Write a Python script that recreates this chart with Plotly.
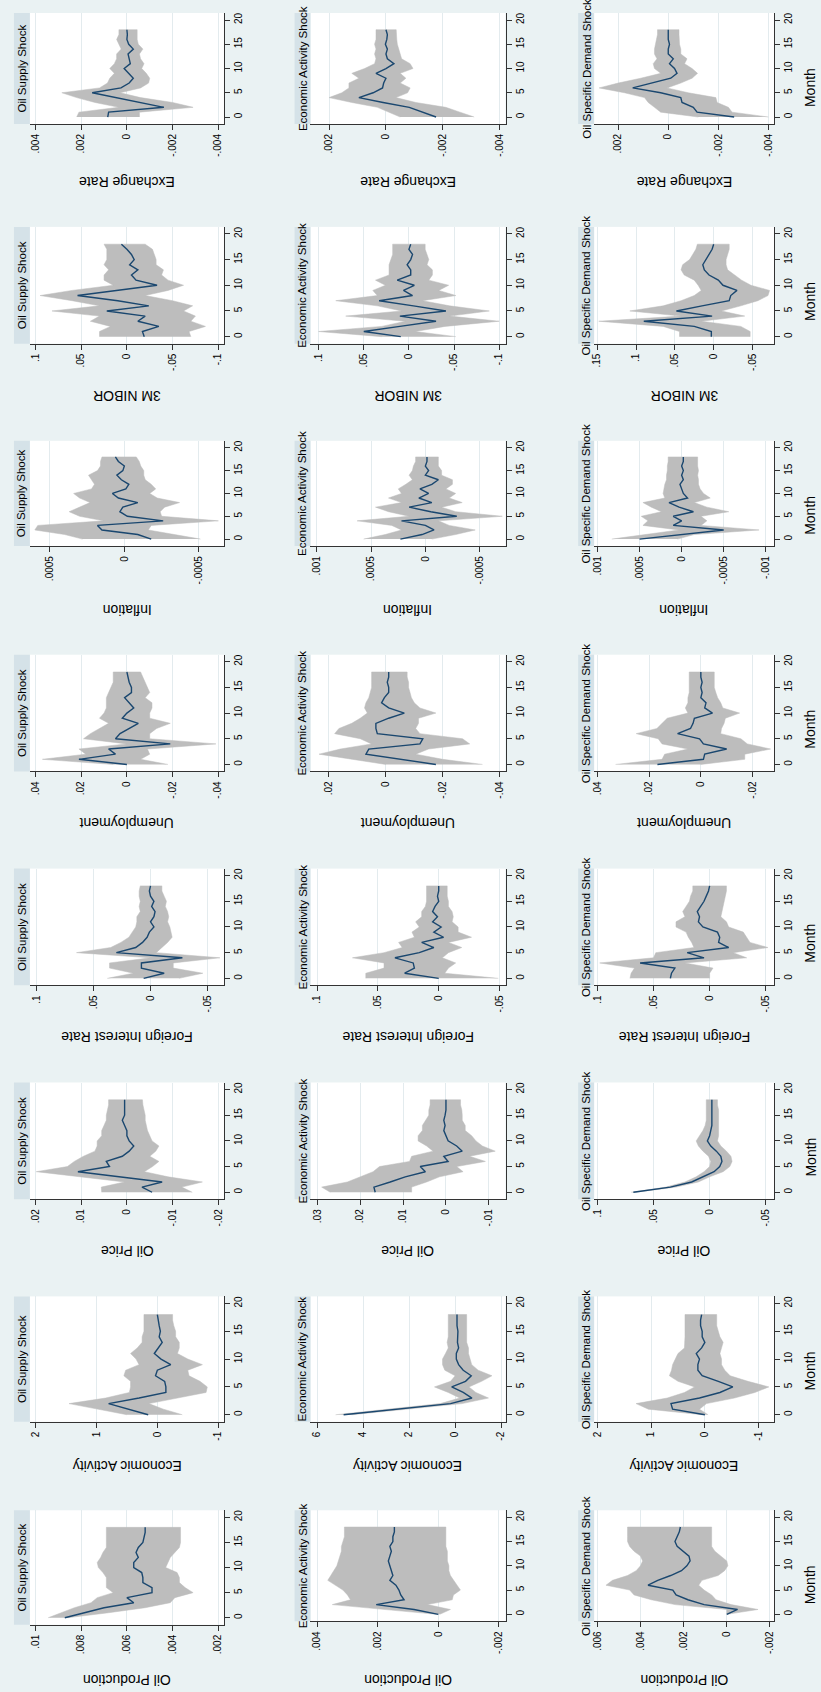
import plotly.graph_objects as go

W, H = 821, 1692
months = list(range(19))

shocks = ["Oil Supply Shock", "Economic Activity Shock", "Oil Specific Demand Shock"]
variables = ["Exchange Rate", "3M NIBOR", "Inflation", "Unemployment",
             "Foreign Interest Rate", "Oil Price", "Economic Activity", "Oil Production"]
# multiplier in which the arrays below are written
unit = {"Exchange Rate": 1e-3, "3M NIBOR": 1.0, "Inflation": 1e-4, "Unemployment": 1e-2,
        "Foreign Interest Rate": 1.0, "Oil Price": 1e-2, "Economic Activity": 1.0, "Oil Production": 1e-3}

# ---------------- Oil Supply Shock ----------------
os_er_irf = [0.84, 0.80, -1.62, -0.6, 0.45, 1.52, 0.26, -0.1, -0.28, -0.1, 0.12, -0.15, -0.1, -0.05, -0.28, -0.08, 0.0, -0.02, 0.0]
os_er_hi = [2.2, 2.1, 0.35, 1.4, 2.2, 2.85, 1.2, 0.85, 0.75, 0.55, 0.75, 0.55, 0.45, 0.45, 0.25, 0.35, 0.45, 0.35, 0.35]
os_er_lo = [-0.55, -0.55, -2.9, -2.0, -0.6, 0.3, -0.6, -0.95, -1.0, -0.85, -0.65, -0.75, -0.6, -0.55, -0.7, -0.5, -0.45, -0.45, -0.45]

os_nb_irf = [-0.019, -0.017, -0.035, -0.012, -0.02, 0.022, -0.024, 0.01, 0.054, 0.01, -0.033, -0.01, -0.005, -0.012, -0.003, -0.008, -0.005, 0.0, 0.006]
os_nb_hi = [0.03, 0.03, 0.018, 0.04, 0.03, 0.082, 0.03, 0.06, 0.095, 0.06, 0.015, 0.025, 0.025, 0.02, 0.025, 0.022, 0.022, 0.022, 0.025]
os_nb_lo = [-0.07, -0.068, -0.086, -0.07, -0.075, -0.062, -0.072, -0.05, -0.02, -0.045, -0.062, -0.045, -0.038, -0.04, -0.032, -0.032, -0.03, -0.028, -0.02]

os_in_irf = [-1.8, -0.9, 1.5, 1.8, -2.6, -0.2, 0.3, 0.1, -0.9, 0.4, 0.8, -0.1, -0.3, 0.2, 0.5, 0.1, 0.0, 0.4, 0.6]
os_in_hi = [2.8, 4.0, 6.0, 5.8, 1.4, 3.0, 3.7, 3.0, 2.3, 3.0, 3.4, 2.2, 2.0, 2.2, 2.4, 1.8, 1.6, 1.6, 1.5]
os_in_lo = [-5.1, -3.5, -1.6, -1.8, -6.3, -2.5, -2.4, -2.7, -3.7, -2.2, -1.7, -2.1, -1.8, -1.4, -1.3, -1.3, -1.1, -1.0, -0.8]

os_un_irf = [0.0, 2.1, 0.5, 0.8, -1.9, 0.5, 0.3, -0.1, -0.5, 0.2, 0.0, -0.3, -0.1, 0.1, -0.2, -0.2, -0.1, -0.05, 0.0]
os_un_hi = [0.6, 3.7, 1.8, 2.1, 0.0, 1.9, 1.6, 1.2, 0.8, 1.2, 1.0, 0.9, 0.9, 0.9, 0.8, 0.7, 0.6, 0.6, 0.6]
os_un_lo = [-1.8, -0.6, -1.0, -0.9, -3.9, -1.0, -1.0, -1.3, -1.9, -1.0, -1.0, -1.1, -1.1, -0.8, -1.0, -0.9, -0.8, -0.7, -0.6]

os_fr_irf = [0.006, -0.012, 0.008, 0.008, -0.028, 0.03, 0.013, 0.007, 0.003, 0.001, -0.003, 0.0, -0.003, -0.004, -0.001, -0.003, 0.0, 0.001, 0.0]
os_fr_hi = [0.038, 0.015, 0.036, 0.036, 0.0, 0.065, 0.035, 0.026, 0.019, 0.016, 0.013, 0.012, 0.012, 0.009, 0.010, 0.009, 0.010, 0.010, 0.009]
os_fr_lo = [-0.025, -0.046, -0.02, -0.02, -0.061, -0.005, -0.01, -0.015, -0.019, -0.018, -0.017, -0.015, -0.016, -0.015, -0.013, -0.014, -0.012, -0.010, -0.010]

os_op_irf = [-0.55, -0.33, -0.77, 0.15, 1.07, 0.38, 0.45, 0.1, -0.05, -0.15, -0.05, 0.0, 0.0, 0.05, 0.1, 0.05, 0.05, 0.05, 0.05]
os_op_hi = [0.55, 0.56, 0.05, 1.0, 1.98, 1.3, 1.15, 0.95, 0.7, 0.65, 0.65, 0.55, 0.55, 0.5, 0.45, 0.45, 0.42, 0.4, 0.4]
os_op_lo = [-1.43, -1.2, -1.65, -0.9, -0.38, -0.56, -0.7, -0.5, -0.63, -0.7, -0.55, -0.5, -0.45, -0.42, -0.4, -0.4, -0.38, -0.35, -0.34]

os_ea_irf = [0.15, 0.48, 0.8, 0.3, -0.14, -0.14, -0.12, 0.03, 0.0, -0.22, -0.06, 0.05, -0.02, -0.08, -0.03, -0.05, -0.03, -0.02, 0.0]
os_ea_hi = [0.5, 1.0, 1.45, 0.85, 0.46, 0.44, 0.44, 0.55, 0.52, 0.3, 0.35, 0.44, 0.33, 0.25, 0.25, 0.22, 0.22, 0.22, 0.22]
os_ea_lo = [-0.41, -0.1, 0.14, -0.3, -0.8, -0.82, -0.7, -0.52, -0.5, -0.74, -0.5, -0.33, -0.36, -0.36, -0.3, -0.3, -0.27, -0.25, -0.25]

os_pr_irf = [8.72, 7.9, 7.0, 5.7, 6.0, 4.9, 4.9, 5.3, 5.3, 5.35, 5.7, 5.7, 5.5, 5.6, 5.5, 5.3, 5.25, 5.2, 5.2]
os_pr_hi = [9.45, 8.9, 8.3, 7.57, 7.3, 6.6, 6.9, 6.9, 6.9, 7.05, 7.25, 7.3, 7.15, 7.05, 6.9, 6.9, 6.9, 6.9, 6.9]
os_pr_lo = [8.6, 6.8, 5.2, 4.1, 3.9, 3.1, 3.45, 3.7, 3.7, 3.8, 4.3, 4.2, 4.1, 3.9, 3.7, 3.65, 3.65, 3.65, 3.65]

# ---------------- Economic Activity Shock ----------------
ea_er_irf = [-1.76, -1.3, -0.82, 0.1, 0.95, 0.45, 0.12, 0.08, 0.0, 0.35, 0.0, -0.28, -0.05, 0.0, -0.05, 0.02, -0.03, -0.05, 0.0]
ea_er_hi = [-0.5, -0.1, 0.3, 1.2, 2.0, 1.55, 1.3, 1.3, 0.95, 1.2, 0.75, 0.4, 0.35, 0.4, 0.35, 0.4, 0.35, 0.35, 0.35]
ea_er_lo = [-3.1, -2.6, -2.1, -1.05, -0.35, -0.76, -0.85, -0.5, -0.7, -0.5, -0.95, -0.85, -0.55, -0.5, -0.45, -0.4, -0.38, -0.36, -0.36]

ea_nb_irf = [0.009, 0.05, 0.01, -0.03, 0.01, -0.041, -0.005, 0.033, -0.004, 0.006, -0.006, 0.013, -0.002, -0.002, 0.002, -0.002, -0.004, 0.0, -0.002]
ea_nb_hi = [0.03, 0.1, 0.03, 0.004, 0.07, 0.008, 0.035, 0.081, 0.035, 0.04, 0.026, 0.037, 0.022, 0.022, 0.022, 0.02, 0.018, 0.018, 0.018]
ea_nb_lo = [-0.052, -0.007, -0.04, -0.1, -0.045, -0.089, -0.045, -0.015, -0.052, -0.033, -0.044, -0.022, -0.026, -0.026, -0.02, -0.022, -0.02, -0.018, -0.018]

ea_in_irf = [2.3, 0.3, -0.8, 0.0, 2.2, -2.9, -0.5, 1.5, -0.6, 0.6, -0.3, 0.5, -0.6, -1.2, 0.0, -0.3, 0.0, -0.15, -0.15]
ea_in_hi = [5.7, 3.7, 2.2, 3.1, 6.3, 1.5, 3.4, 4.6, 2.2, 3.4, 2.2, 2.5, 1.8, 1.2, 1.5, 1.2, 1.1, 0.9, 0.9]
ea_in_lo = [-0.6, -2.8, -4.6, -2.2, -1.2, -7.1, -2.8, -1.5, -3.4, -2.2, -2.8, -1.9, -2.5, -2.5, -1.5, -1.5, -1.2, -1.2, -1.2]

ea_un_irf = [-1.76, -0.5, 0.7, 0.6, -1.2, -1.3, 0.3, 0.35, 0.35, -0.1, -0.65, -0.1, 0.15, 0.05, -0.1, -0.1, -0.05, -0.1, -0.1]
ea_un_hi = [0.0, 1.2, 2.35, 1.6, 0.5, 0.9, 1.8, 1.65, 1.2, 0.9, 0.65, 0.75, 0.7, 0.6, 0.55, 0.5, 0.5, 0.5, 0.5]
ea_un_lo = [-3.4, -2.0, -1.05, -1.5, -2.95, -2.7, -1.2, -1.05, -1.15, -1.15, -1.76, -1.2, -1.0, -0.9, -0.85, -0.8, -0.8, -0.75, -0.75]

ea_fr_irf = [0.0, 0.028, 0.02, 0.021, 0.036, 0.016, 0.004, 0.014, -0.004, 0.004, -0.002, 0.005, 0.001, 0.005, 0.003, 0.0, 0.001, 0.0, 0.0]
ea_fr_hi = [0.06, 0.06, 0.045, 0.045, 0.071, 0.045, 0.03, 0.033, 0.02, 0.022, 0.016, 0.019, 0.014, 0.014, 0.011, 0.01, 0.01, 0.01, 0.01]
ea_fr_lo = [-0.049, -0.005, -0.008, -0.014, -0.003, -0.008, -0.019, -0.008, -0.027, -0.016, -0.016, -0.011, -0.012, -0.011, -0.008, -0.008, -0.007, -0.007, -0.007]

ea_op_irf = [1.65, 1.68, 1.3, 0.95, 0.48, 0.6, -0.05, 0.05, -0.38, -0.25, -0.05, 0.0, 0.05, 0.02, 0.05, 0.02, 0.0, 0.0, 0.0]
ea_op_hi = [2.7, 2.9, 2.3, 2.0, 1.7, 1.55, 0.85, 0.8, 0.3, 0.45, 0.65, 0.65, 0.55, 0.55, 0.48, 0.4, 0.4, 0.37, 0.37]
ea_op_lo = [0.8, 0.8, 0.45, 0.15, -0.4, -0.25, -0.92, -0.55, -1.15, -0.85, -0.7, -0.6, -0.45, -0.45, -0.38, -0.38, -0.37, -0.34, -0.34]

ea_ea_irf = [4.85, 2.4, 0.2, -0.73, -0.35, 0.15, -0.45, -0.7, -0.35, -0.15, -0.05, -0.05, -0.15, -0.1, -0.12, -0.12, -0.08, -0.08, -0.08]
ea_ea_hi = [5.2, 2.8, 0.65, -0.2, 0.3, 0.9, 0.2, 0.0, 0.45, 0.55, 0.55, 0.42, 0.3, 0.35, 0.3, 0.3, 0.3, 0.3, 0.3]
ea_ea_lo = [4.5, 2.0, -0.3, -1.45, -0.9, -0.6, -1.15, -1.6, -1.0, -0.72, -0.65, -0.58, -0.58, -0.5, -0.5, -0.5, -0.5, -0.5, -0.5]

ea_pr_irf = [0.0, 0.8, 2.05, 1.13, 1.24, 1.3, 1.4, 1.6, 1.5, 1.55, 1.6, 1.65, 1.6, 1.55, 1.6, 1.5, 1.5, 1.45, 1.45]
ea_pr_hi = [0.05, 1.7, 3.5, 2.9, 3.0, 3.15, 3.4, 3.65, 3.55, 3.45, 3.35, 3.3, 3.25, 3.2, 3.2, 3.15, 3.1, 3.1, 3.1]
ea_pr_lo = [-0.05, -0.4, 0.36, -0.46, -0.5, -0.73, -0.62, -0.5, -0.4, -0.35, -0.35, -0.3, -0.3, -0.3, -0.25, -0.25, -0.25, -0.25, -0.25]

# ---------------- Oil Specific Demand Shock ----------------
od_er_irf = [-2.63, -1.15, -1.0, -0.55, -0.5, 0.3, 1.42, 0.6, -0.1, -0.35, -0.25, -0.05, -0.2, 0.0, 0.0, -0.05, 0.0, 0.0, 0.0]
od_er_hi = [-1.2, 0.3, 0.55, 0.8, 0.95, 1.75, 2.76, 2.0, 1.1, 0.3, 0.55, 0.6, 0.45, 0.55, 0.55, 0.5, 0.45, 0.43, 0.43]
od_er_lo = [-4.0, -2.55, -2.4, -1.95, -1.9, -0.8, 0.05, -0.5, -0.95, -1.17, -0.95, -0.65, -0.75, -0.5, -0.5, -0.45, -0.45, -0.43, -0.43]

od_nb_irf = [0.003, 0.003, 0.025, 0.09, 0.002, 0.048, 0.015, -0.02, -0.022, -0.03, -0.012, -0.006, 0.006, 0.012, 0.014, 0.01, 0.006, 0.002, 0.0]
od_nb_hi = [0.044, 0.044, 0.065, 0.148, 0.042, 0.108, 0.065, 0.042, 0.025, 0.016, 0.02, 0.025, 0.038, 0.042, 0.04, 0.031, 0.027, 0.023, 0.021]
od_nb_lo = [-0.047, -0.047, -0.035, 0.016, -0.04, -0.01, -0.035, -0.057, -0.07, -0.072, -0.048, -0.036, -0.027, -0.018, -0.016, -0.016, -0.018, -0.02, -0.02]

od_in_irf = [5.0, 0.3, -5.0, 1.0, 0.0, 1.0, -1.4, 0.3, 1.5, -0.7, -0.2, 0.0, 0.2, -0.2, 0.0, -0.2, 0.0, -0.2, -0.2]
od_in_hi = [8.3, 4.0, 0.3, 4.6, 4.0, 4.8, 2.4, 3.6, 4.6, 2.0, 2.2, 2.1, 2.0, 1.8, 1.8, 1.7, 1.7, 1.6, 1.6]
od_in_lo = [0.5, -1.5, -9.2, -2.3, -3.0, -2.3, -5.6, -3.0, -1.5, -3.4, -2.6, -2.2, -2.0, -2.0, -1.9, -2.0, -1.9, -1.9, -1.9]

od_un_irf = [1.68, -0.1, -0.15, -1.0, -0.1, 0.05, 0.9, 0.4, 0.3, 0.25, -0.45, -0.15, -0.2, 0.0, -0.05, 0.0, -0.05, 0.0, 0.0]
od_un_hi = [3.3, 1.5, 1.4, 0.5, 1.5, 1.65, 2.5, 1.7, 1.5, 1.3, 0.5, 0.6, 0.5, 0.5, 0.45, 0.45, 0.45, 0.45, 0.45]
od_un_lo = [0.0, -1.7, -1.7, -2.7, -1.8, -1.55, -0.77, -0.8, -0.9, -0.95, -1.5, -0.85, -0.77, -0.65, -0.58, -0.52, -0.52, -0.52, -0.52]

od_fr_irf = [0.035, 0.034, 0.031, 0.062, 0.005, 0.02, -0.017, -0.008, -0.009, -0.007, 0.006, 0.01, 0.009, 0.011, 0.008, 0.005, 0.003, 0.001, 0.0]
od_fr_hi = [0.071, 0.07, 0.067, 0.098, 0.05, 0.048, 0.014, 0.016, 0.019, 0.021, 0.03, 0.03, 0.022, 0.024, 0.021, 0.018, 0.017, 0.015, 0.015]
od_fr_lo = [0.0, 0.0, -0.003, 0.022, -0.033, -0.021, -0.052, -0.036, -0.033, -0.03, -0.017, -0.015, -0.01, -0.011, -0.012, -0.013, -0.014, -0.015, -0.015]

od_op_irf = [6.8, 3.5, 1.6, 0.6, -0.4, -0.9, -1.1, -1.0, -0.6, -0.1, 0.2, 0.0, -0.1, -0.2, -0.2, -0.2, -0.2, -0.2, -0.2]
od_op_hi = [7.0, 3.9, 2.2, 1.2, 0.5, 0.0, -0.1, 0.1, 0.6, 1.0, 1.2, 0.9, 0.6, 0.4, 0.3, 0.3, 0.3, 0.3, 0.3]
od_op_lo = [6.6, 3.0, 1.0, 0.0, -1.2, -1.8, -2.0, -1.9, -1.5, -1.0, -0.7, -0.8, -0.8, -0.8, -0.8, -0.8, -0.8, -0.7, -0.7]

od_ea_irf = [0.0, 0.6, 0.63, 0.1, -0.28, -0.52, -0.25, 0.05, 0.13, 0.13, 0.1, 0.16, 0.06, 0.0, 0.05, 0.05, 0.08, 0.08, 0.06]
od_ea_hi = [0.05, 1.05, 1.28, 0.7, 0.38, 0.19, 0.5, 0.66, 0.62, 0.6, 0.55, 0.5, 0.38, 0.37, 0.37, 0.37, 0.37, 0.37, 0.37]
od_ea_lo = [-0.06, 0.1, -0.03, -0.55, -0.93, -1.19, -0.8, -0.47, -0.37, -0.31, -0.31, -0.28, -0.31, -0.34, -0.28, -0.25, -0.22, -0.22, -0.22]

od_pr_irf = [0.0, -0.5, 1.05, 1.8, 2.35, 2.5, 3.65, 3.2, 2.6, 2.1, 1.85, 1.7, 1.75, 2.0, 2.3, 2.4, 2.3, 2.2, 2.15]
od_pr_hi = [0.0, 0.0, 2.4, 3.5, 4.3, 4.5, 5.6, 5.3, 4.6, 4.2, 4.0, 3.9, 4.0, 4.3, 4.5, 4.6, 4.6, 4.6, 4.6]
od_pr_lo = [0.0, -1.45, -0.2, 0.5, 0.7, 1.05, 1.3, 1.15, 0.4, 0.1, -0.05, 0.0, 0.25, 0.55, 0.7, 0.7, 0.7, 0.7, 0.7]

# value-axis ticks (tick labels) per shock column, per variable
ticks_os = {"Exchange Rate": [.004, .002, 0, -.002, -.004], "3M NIBOR": [.1, .05, 0, -.05, -.1],
            "Inflation": [.0005, 0, -.0005], "Unemployment": [.04, .02, 0, -.02, -.04],
            "Foreign Interest Rate": [.1, .05, 0, -.05], "Oil Price": [.02, .01, 0, -.01, -.02],
            "Economic Activity": [2, 1, 0, -1], "Oil Production": [.01, .008, .006, .004, .002]}
ticks_ea = {"Exchange Rate": [.002, 0, -.002, -.004], "3M NIBOR": [.1, .05, 0, -.05, -.1],
            "Inflation": [.001, .0005, 0, -.0005], "Unemployment": [.02, 0, -.02, -.04],
            "Foreign Interest Rate": [.1, .05, 0, -.05], "Oil Price": [.03, .02, .01, 0, -.01],
            "Economic Activity": [6, 4, 2, 0, -2], "Oil Production": [.004, .002, 0, -.002]}
ticks_od = {"Exchange Rate": [.002, 0, -.002, -.004], "3M NIBOR": [.15, .1, .05, 0, -.05],
            "Inflation": [.001, .0005, 0, -.0005, -.001], "Unemployment": [.04, .02, 0, -.02],
            "Foreign Interest Rate": [.1, .05, 0, -.05], "Oil Price": [.1, .05, 0, -.05],
            "Economic Activity": [2, 1, 0, -1], "Oil Production": [.006, .004, .002, 0, -.002]}
month_ticks = [0, 5, 10, 15, 20]

# axis extents (value at left / right edge of each plot region)
range_os = {"Exchange Rate": (.00425, -.00425), "3M NIBOR": (.1062, -.1062), "Inflation": (.000633, -.000667),
            "Unemployment": (.0425, -.0425), "Foreign Interest Rate": (.106, -.0645), "Oil Price": (.0212, -.0212),
            "Economic Activity": (2.093, -1.093), "Oil Production": (.01025, .00175)}
range_ea = {"Exchange Rate": (.00265, -.0042), "3M NIBOR": (.109, -.107), "Inflation": (.00106, -.00074),
            "Unemployment": (.0265, -.0421), "Foreign Interest Rate": (.1055, -.055), "Oil Price": (.0316, -.0139),
            "Economic Activity": (6.29, -2.19), "Oil Production": (.00422, -.00222)}
range_od = {"Exchange Rate": (.00296, -.00423), "3M NIBOR": (.154, -.078), "Inflation": (.00104, -.0011),
            "Unemployment": (.0413, -.0284), "Foreign Interest Rate": (.103, -.0576), "Oil Price": (.103, -.0576),
            "Economic Activity": (2.06, -1.29), "Oil Production": (.00615, -.0022)}

short = {"Exchange Rate": "er", "3M NIBOR": "nb", "Inflation": "in", "Unemployment": "un",
         "Foreign Interest Rate": "fr", "Oil Price": "op", "Economic Activity": "ea", "Oil Production": "pr"}
prefixes = ["os", "ea", "od"]
ticks_all = [ticks_os, ticks_ea, ticks_od]
ranges_all = [range_os, range_ea, range_od]
g = globals()

# ---------------- layout geometry (pixels) ----------------
col_x = [(27, 222), (309, 505), (594, 775)]
STRIP = 16
ROW_TOP0, ROW_PITCH = 13, 213.9
BG = "#EAF2F3"
STRIP_C = "#D5E2E8"
GRID_C = "#E3EBEE"
AX_C = "#333333"
BAND_C = "#BDBDBD"
LINE_C = "#1A476F"
FONT = "Liberation Sans, Arial, sans-serif"
TICK_FS = 10


def fmt(v):
    if v == 0:
        return "0"
    s = f"{v:g}"
    if s.startswith("0."):
        s = s[1:]
    elif s.startswith("-0."):
        s = "-" + s[2:]
    return s


CW = {".": 0.278, "-": 0.333}


def em(s):
    return sum(CW.get(ch, 0.556) for ch in s)


def px(y):
    return 1 - y / H


fig = go.Figure()
shapes, annotations = [], []
layout = {}
k = 0
for c, shock in enumerate(shocks):
    x0, x1 = col_x[c]
    for r, var in enumerate(variables):
        k += 1
        key = f"{prefixes[c]}_{short[var]}"
        u = unit[var]
        irf = [v * u for v in g[key + "_irf"]]
        hi = [v * u for v in g[key + "_hi"]]
        lo = [v * u for v in g[key + "_lo"]]
        tv = ticks_all[c][var]
        tt = [fmt(v) for v in tv]
        h = 134.5 - 10.3 * max(em(s) for s in tt)
        ytop = ROW_TOP0 + r * ROW_PITCH
        ybot = ytop + h
        ppm = (h - 14) / 20.0
        xs = "x" if k == 1 else f"x{k}"
        ys = "y" if k == 1 else f"y{k}"
        fig.add_trace(go.Scatter(x=hi + lo[::-1], y=months + months[::-1], fill="toself",
                                 fillcolor=BAND_C, line=dict(color=BAND_C, width=0.5), mode="lines",
                                 hoverinfo="skip", showlegend=False, xaxis=xs, yaxis=ys))
        fig.add_trace(go.Scatter(x=irf, y=months, mode="lines", line=dict(color=LINE_C, width=1.4),
                                 showlegend=False, xaxis=xs, yaxis=ys))
        xa = "xaxis" if k == 1 else f"xaxis{k}"
        ya = "yaxis" if k == 1 else f"yaxis{k}"
        layout[xa] = dict(domain=[x0 / W, x1 / W], range=list(ranges_all[c][var]), anchor=ys,
                          tickmode="array", tickvals=tv, ticktext=tt, tickangle=-90,
                          ticks="outside", ticklen=5, tickcolor=AX_C, showline=True, linecolor=AX_C,
                          linewidth=1, showgrid=True, gridcolor=GRID_C, gridwidth=1, zeroline=False,
                          tickfont=dict(size=TICK_FS, color="black", family=FONT), fixedrange=True)
        layout[ya] = dict(domain=[px(ybot), px(ytop)], range=[-7 / ppm, 20 + 7 / ppm], anchor=xs,
                          side="right", tickmode="array", tickvals=month_ticks,
                          ticktext=[str(m) for m in month_ticks], tickangle=-90,
                          ticks="outside", ticklen=5, tickcolor=AX_C, showline=True, linecolor=AX_C,
                          linewidth=1, showgrid=False, zeroline=False,
                          tickfont=dict(size=TICK_FS, color="black", family=FONT), fixedrange=True)
        # title strip
        shapes.append(dict(type="rect", xref="paper", yref="paper", x0=(x0 - STRIP) / W, x1=x0 / W,
                           y0=px(ybot), y1=px(ytop), fillcolor=STRIP_C, line=dict(width=0), layer="below"))
        annotations.append(dict(text=shock, xref="paper", yref="paper", x=(x0 - STRIP / 2) / W,
                                y=px((ytop + ybot) / 2), textangle=-90, showarrow=False,
                                xanchor="center", yanchor="middle",
                                font=dict(size=11.5, color="black", family=FONT)))
        # variable (axis) title
        annotations.append(dict(text=var, xref="paper", yref="paper", x=((x0 + x1) / 2) / W,
                                y=px(ytop + 169), textangle=180, showarrow=False,
                                xanchor="center", yanchor="middle",
                                font=dict(size=14, color="black", family=FONT)))
        if c == 2:
            annotations.append(dict(text="Month", xref="paper", yref="paper", x=811 / W,
                                    y=px(ytop + 75), textangle=-90, showarrow=False,
                                    xanchor="center", yanchor="middle",
                                    font=dict(size=14, color="black", family=FONT)))

fig.update_layout(width=W, height=H, margin=dict(l=0, r=0, t=0, b=0), paper_bgcolor=BG,
                  plot_bgcolor="white", showlegend=False, shapes=shapes, annotations=annotations,
                  **layout)
fig.write_html("out.html")
